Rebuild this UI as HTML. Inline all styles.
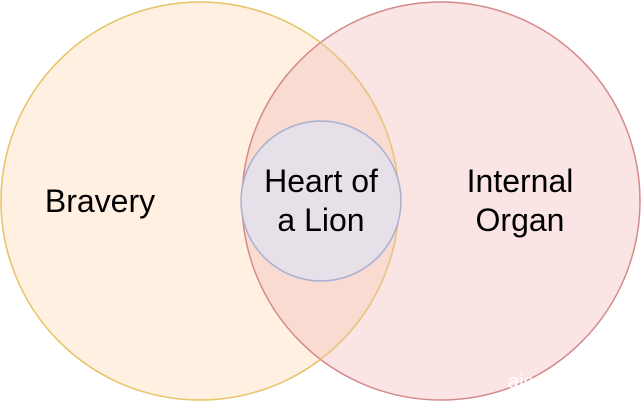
<!DOCTYPE html>
<html><head><style>body{margin:0;background:#fff}svg{display:block}</style></head><body>
<svg width="642" height="402" xmlns="http://www.w3.org/2000/svg">
<circle cx="200" cy="201" r="199" fill="#fff0e1" stroke="#e8c56a" stroke-width="1.5"/>
<circle cx="441" cy="201" r="199" fill="rgba(244,190,190,0.42)" stroke="#d48a8a" stroke-width="1.5"/>
<circle cx="200" cy="201" r="199" fill="none" stroke="rgba(232,197,106,0.5)" stroke-width="1.5"/>
<circle cx="321" cy="201" r="80" fill="#e7e0e8" stroke="#a9b1d1" stroke-width="1.5"/>
<g font-family="Liberation Sans, sans-serif" font-size="32" fill="#000" text-anchor="middle">
<text x="100" y="212">Bravery</text>
<text x="321" y="192">Heart of</text>
<text x="321" y="231">a Lion</text>
<text x="520" y="192">Internal</text>
<text x="520" y="231">Organ</text>
</g>
<text x="508" y="388" font-family="Liberation Sans, sans-serif" font-size="20" fill="#fff">aic</text>
</svg>
</body></html>
